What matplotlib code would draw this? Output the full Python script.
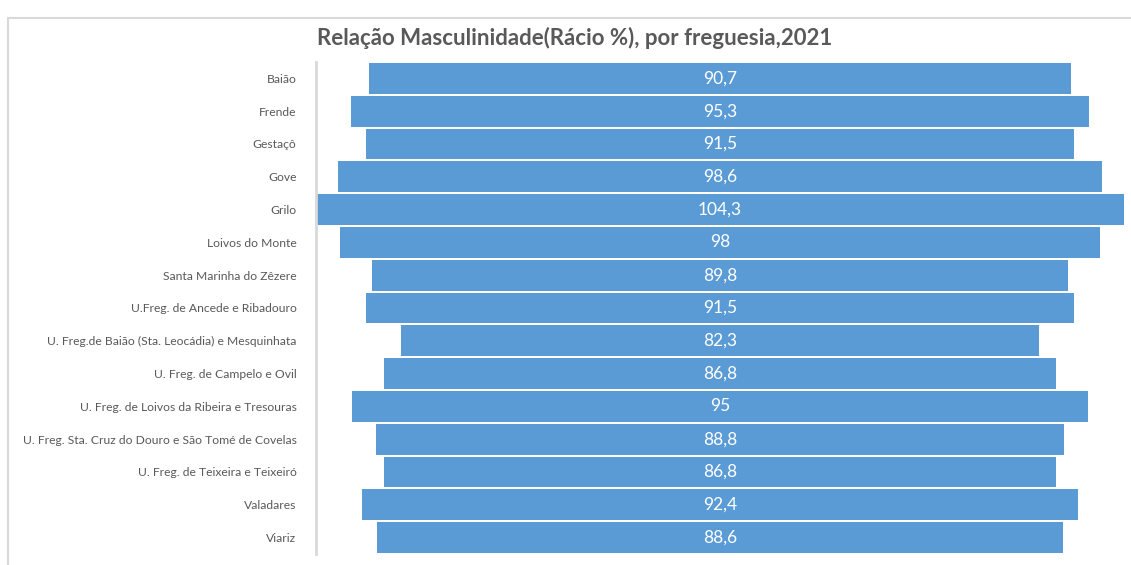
import matplotlib
matplotlib.use("Agg")
import matplotlib.pyplot as plt
from matplotlib.patches import Rectangle

plt.rcParams['font.family'] = ['Lato', 'DejaVu Sans']

categories = [
    "Baião", "Frende", "Gestaçô", "Gove", "Grilo", "Loivos do Monte",
    "Santa Marinha do Zêzere", "U.Freg. de Ancede e Ribadouro",
    "U. Freg.de Baião (Sta. Leocádia) e Mesquinhata",
    "U. Freg. de Campelo e Ovil",
    "U. Freg. de Loivos da Ribeira e Tresouras",
    "U. Freg. Sta. Cruz do Douro e São Tomé de Covelas",
    "U. Freg. de Teixeira e Teixeiró", "Valadares", "Viariz",
]
values = [90.7, 95.3, 91.5, 98.6, 104.3, 98, 89.8, 91.5, 82.3, 86.8, 95, 88.8, 86.8, 92.4, 88.6]
value_labels = ["90,7", "95,3", "91,5", "98,6", "104,3", "98", "89,8", "91,5", "82,3",
                "86,8", "95", "88,8", "86,8", "92,4", "88,6"]
title = "Relação Masculinidade(Rácio %), por freguesia,2021"

W, H = 1131, 565
fig = plt.figure(figsize=(W / 100, H / 100), dpi=100)

# chart frame
fig.patches.append(Rectangle((8 / W, -0.01), 1.2, 1 - 18 / H + 0.01, transform=fig.transFigure,
                             fill=False, edgecolor="#d9d9d9", linewidth=1.5))

ax = fig.add_axes([316 / W, 1 - 554 / H, 808 / W, 492 / H])
bar_color = "#5B9BD5"
ypos = list(range(len(categories)))
lefts = [-v / 2 for v in values]
ax.barh(ypos, values, left=lefts, height=0.94, color=bar_color)
for y, lab in zip(ypos, value_labels):
    ax.text(0, y, lab, ha="center", va="center", color="white", fontsize=12.5)

vmax = max(values)
ax.set_xlim(-vmax / 2, vmax / 2)
ax.set_ylim(len(categories) - 0.5, -0.5)
ax.set_yticks(ypos)
ax.set_yticklabels(categories, fontsize=8.75, color="#595959")
ax.tick_params(axis="y", length=0, pad=14)
ax.set_xticks([])
for s in ["top", "right", "bottom"]:
    ax.spines[s].set_visible(False)
ax.spines["left"].set_color("#d9d9d9")
ax.spines["left"].set_linewidth(2)

fig.text(575 / W, 1 - 38 / H, title, ha="center", va="center", fontsize=16,
         fontweight="bold", color="#595959")

fig.savefig("out.png", dpi=100)
